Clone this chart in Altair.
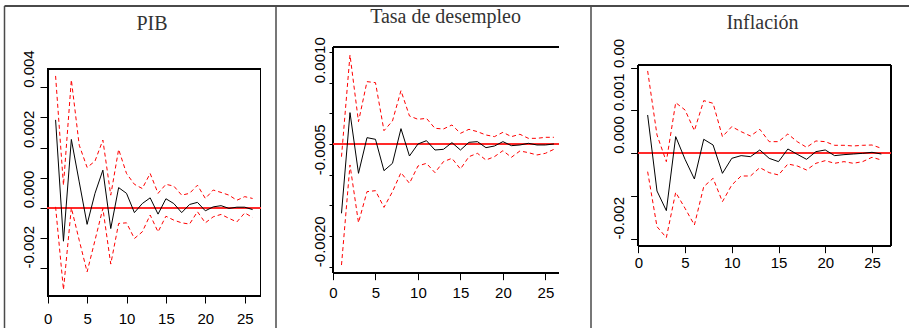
import altair as alt
import pandas as pd

# ---------------- data ----------------
periods = list(range(1, 27))
panel_titles = ["PIB", "Tasa de desempleo", "Inflación"]

pib_resp = [0.00292, -0.00111, 0.00227, 0.00086, -0.00055, 0.00048, 0.00125, -0.00069, 0.00067, 0.00048,
            -0.00016, 0.00014, 0.00033, -0.00021, 0.00030, 0.00014, -0.00016, 0.00011, 0.00018, -0.00010,
            0.00003, 0.00007, -0.00002, 0.00002, 0.00002, -0.00006]
pib_upper = [0.00438, 0.00075, 0.00425, 0.00208, 0.00134, 0.00155, 0.00225, 0.00042, 0.00194, 0.00114,
             0.00078, 0.00064, 0.00114, 0.00048, 0.00078, 0.00072, 0.00042, 0.00048, 0.00075, 0.00031,
             0.00059, 0.00051, 0.00042, 0.00025, 0.00037, 0.00031]
pib_lower = [0.00003, -0.00272, 0.00000, -0.00108, -0.00213, -0.00108, -0.00002, -0.00187, -0.00052, -0.00050,
             -0.00102, -0.00080, -0.00024, -0.00080, -0.00028, -0.00041, -0.00050, -0.00054, -0.00013, -0.00050,
             -0.00030, -0.00022, -0.00035, -0.00047, -0.00017, -0.00032]

des_resp = [-0.00113, 0.000511, -0.000478, 0.000103, 0.000076, -0.000435, -0.000315, 0.00025, -0.000196, 0.0,
            0.000054, -0.000098, -0.000087, 0.000022, -0.000098, 0.000027, 0.000038, -0.00006, -0.000033, 0.000038,
            -0.000027, -0.000016, 0.000011, -0.000016, -0.000016, 0.0]
des_upper = [-0.000207, 0.001451, 0.000364, 0.001016, 0.00100, 0.000217, 0.000375, 0.00087, 0.000457, 0.000402,
             0.000418, 0.000255, 0.000245, 0.00031, 0.000174, 0.000239, 0.000201, 0.000147, 0.00012, 0.00019,
             0.00012, 0.000158, 0.000092, 0.000092, 0.000109, 0.000109]
des_lower = [-0.001973, -0.000342, -0.001283, -0.000777, -0.000761, -0.001033, -0.000777, -0.000467, -0.000641, -0.000359,
             -0.000315, -0.000467, -0.000288, -0.000234, -0.000408, -0.000207, -0.000152, -0.000261, -0.000207, -0.000109,
             -0.000217, -0.000114, -0.000141, -0.000179, -0.000152, -0.000087]

inf_resp = [0.000894, -0.000879, -0.001337, 0.000389, -0.00014, -0.000599, 0.000327, 0.000194, -0.000467, -0.000117,
            -0.000054, -0.000078, 0.000078, -0.000117, -0.000194, 0.000101, -0.000023, -0.00014, 0.000039, 0.000078,
            -0.000054, -0.000031, -0.000016, 0.0, 0.000023, -0.000016]
inf_upper = [0.001921, 0.000428, -0.000194, 0.001182, 0.001011, 0.000529, 0.001229, 0.001166, 0.000389, 0.000622,
             0.000505, 0.000404, 0.00056, 0.000272, 0.000272, 0.000451, 0.000272, 0.00014, 0.000288, 0.000272,
             0.000187, 0.000187, 0.000171, 0.000187, 0.000194, 0.000117]
inf_lower = [-0.000428, -0.001711, -0.001967, -0.00091, -0.001283, -0.001672, -0.000778, -0.000583, -0.001128, -0.000739,
             -0.000529, -0.000529, -0.000334, -0.000451, -0.000505, -0.000249, -0.000295, -0.000389, -0.000233, -0.000171,
             -0.000233, -0.000194, -0.000233, -0.000194, -0.000093, -0.000156]

x_ticks = [0, 5, 10, 15, 20, 25]
pib_y_ticks = [-0.002, -0.001, 0.0, 0.001, 0.002, 0.003, 0.004]
pib_y_labels = {0.004: "0.004", 0.002: "0.002", 0.0: "0.000", -0.002: "-0.002"}
des_y_ticks = [-0.002, -0.0015, -0.001, -0.0005, 0.0, 0.0005, 0.001, 0.0015]
des_y_labels = {0.001: "0.0010", -0.0005: "-0.0005", -0.002: "-0.0020"}
inf_y_ticks = [-0.002, -0.001, 0.0, 0.001, 0.002]
inf_y_labels = {0.002: "0.00", 0.001: "0.001", 0.0: "0.000", -0.002: "-0.002"}

# ---------------- layout / style ----------------
W, H = 909, 328
LABEL_FONT = "Liberation Sans"
TITLE_FONT = "Liberation Serif"


def label_expr(mapping):
    parts = [f"datum.value == {v!r} ? '{t}' : " for v, t in mapping.items()]
    return "".join(parts) + "''"


def panel(resp, upper, lower, xdom, xrng, ydom, yrng, yticks, ylabels,
          ytick_size, ylab_pad, xlab_pad, full_frame=True):
    df = pd.DataFrame({"t": periods, "resp": resp, "upper": upper, "lower": lower})
    sx = alt.Scale(domain=xdom, range=xrng, nice=False, zero=False)
    sy = alt.Scale(domain=ydom, range=yrng, nice=False, zero=False)
    ax = alt.Axis(orient="bottom", offset=yrng[0] - H, values=x_ticks, domain=False, grid=False,
                  tickSize=7, tickColor="black", tickWidth=1, labelPadding=xlab_pad,
                  labelFont=LABEL_FONT, labelFontSize=15, labelColor="black",
                  labelFlush=False, labelOverlap=False, title="")
    ay = alt.Axis(orient="left", offset=-xrng[0], values=yticks, domain=False, grid=False,
                  tickSize=ytick_size, tickColor="black", tickWidth=1, labelPadding=ylab_pad,
                  labelFont=LABEL_FONT, labelFontSize=15, labelColor="black",
                  labelAngle=270, labelAlign="left", labelBaseline="alphabetic",
                  labelExpr=label_expr(ylabels), labelFlush=False, labelOverlap=False, title="")
    base = alt.Chart(df)
    X = alt.X("t:Q", scale=sx, axis=ax)
    layers = []
    if full_frame:
        layers.append(base.mark_rect(filled=False, stroke="black", strokeWidth=1).encode(
            x=alt.X(datum=xdom[0], scale=sx, axis=ax), x2=alt.datum(xdom[1]),
            y=alt.Y(datum=ydom[0], scale=sy, axis=ay), y2=alt.datum(ydom[1])))
    else:
        for yv in (ydom[0], ydom[1]):
            layers.append(base.mark_rule(color="black", strokeWidth=1).encode(
                x=alt.X(datum=xdom[0], scale=sx, axis=ax), x2=alt.datum(xdom[1]),
                y=alt.Y(datum=yv, scale=sy, axis=ay)))
        layers.append(base.mark_rule(color="black", strokeWidth=1).encode(
            x=alt.X(datum=xdom[0], scale=sx, axis=ax),
            y=alt.Y(datum=ydom[0], scale=sy, axis=ay), y2=alt.datum(ydom[1])))
    layers.append(base.mark_rule(color="#ff2a2a", strokeWidth=1.6, opacity=0.8).encode(
        x=alt.X(datum=xdom[0], scale=sx, axis=ax), x2=alt.datum(xdom[1]),
        y=alt.Y(datum=0, scale=sy, axis=ay)))
    for fld in ("upper", "lower"):
        layers.append(base.mark_line(color="red", strokeWidth=1, strokeDash=[4, 3]).encode(
            x=X, y=alt.Y(f"{fld}:Q", scale=sy, axis=ay)))
    layers.append(base.mark_line(color="black", strokeWidth=1).encode(
        x=X, y=alt.Y("resp:Q", scale=sy, axis=ay)))
    return alt.layer(*layers)


p1 = panel(pib_resp, pib_upper, pib_lower, [0, 27], [47.7, 260.5], [-0.00293, 0.00461], [296, 69],
           pib_y_ticks, pib_y_labels, 7.7, 7, 8.5)
p2 = panel(des_resp, des_upper, des_lower, [0, 26.6], [333, 559], [-0.002098, 0.001576], [272.7, 47.3],
           des_y_ticks, des_y_labels, 4, 5, 6, full_frame=False)
p3 = panel(inf_resp, inf_upper, inf_lower, [0, 27], [638.3, 890.7], [-0.002155, 0.00206], [245.7, 65],
           inf_y_ticks, inf_y_labels, 7.7, 7.3, 3)

# outer frames and panel titles (decoration)
deco_df = pd.DataFrame({"k": [0]})
deco = alt.Chart(deco_df)
frame_color = "#4a4a4a"
frames = [
    deco.mark_rule(color=frame_color, strokeWidth=2).encode(x=alt.value(4.5), x2=alt.value(W), y=alt.value(6)),
    deco.mark_rule(color=frame_color, strokeWidth=1.5).encode(x=alt.value(4.5), y=alt.value(6), y2=alt.value(H)),
    deco.mark_rule(color=frame_color, strokeWidth=1.5).encode(x=alt.value(276), y=alt.value(6), y2=alt.value(H)),
    deco.mark_rule(color=frame_color, strokeWidth=1.5).encode(x=alt.value(591), y=alt.value(6), y2=alt.value(H)),
]
title_pos = [(152, 30), (445.5, 22.7), (762.5, 29.3)]
titles = [
    deco.mark_text(font=TITLE_FONT, fontSize=20, color="#333333", align="center", baseline="alphabetic").encode(
        x=alt.value(px), y=alt.value(py), text=alt.value(t))
    for t, (px, py) in zip(panel_titles, title_pos)
]

chart = alt.layer(p1, p2, p3, *frames, *titles).resolve_scale(
    x="independent", y="independent"
).properties(
    width=W, height=H, autosize=alt.AutoSizeParams(type="none"), padding=0, background="white"
).configure_view(strokeWidth=0)

chart.save("out.html", embed_options={"renderer": "svg", "actions": False})
